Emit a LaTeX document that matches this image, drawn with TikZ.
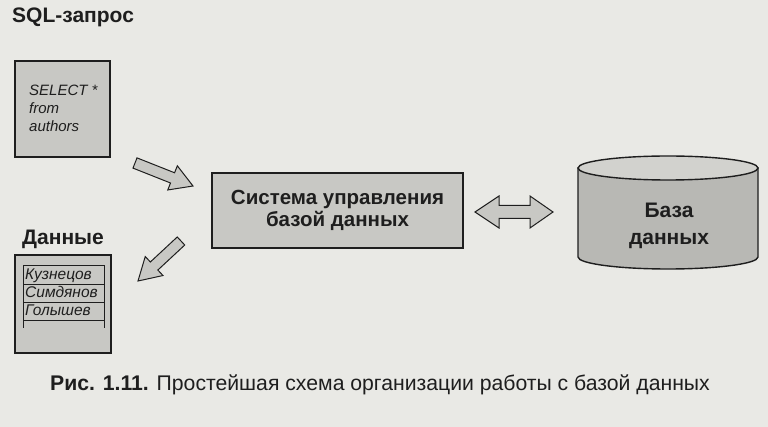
\documentclass[tikz,border=0pt]{standalone}
\usepackage{fontspec}
\setmainfont{Liberation Sans}
\usetikzlibrary{calc}
\definecolor{bg}{HTML}{E9E9E5}
\definecolor{boxfill}{HTML}{C8C8C4}
\definecolor{cylbody}{HTML}{B8B8B4}
\definecolor{cyltop}{HTML}{D2D2CE}
\definecolor{ink}{HTML}{1E1E1E}
\tikzset{
  panel/.style={draw=ink, line width=1.4pt, fill=boxfill, inner sep=0pt},
  blockarr/.style={draw=ink, line width=1pt, fill=boxfill, line join=miter},
  title/.style={font=\fontsize{21}{24}\selectfont\bfseries, text=ink, inner sep=0pt},
  code/.style={font=\fontsize{15}{18}\selectfont\itshape, text=ink, inner sep=0pt, align=left},
  row/.style={font=\fontsize{15.5}{17}\selectfont\itshape, text=ink, inner sep=0pt, anchor=base west},
  tline/.style={draw=ink, line width=0.9pt},
}
\newcommand\myblockarrow[2]{%
  \path ($(#2)!22pt!(#1)$) coordinate (hb);
  \draw[blockarr] ($(#1)!5.5pt!90:(#2)$) -- ($(hb)!5.5pt!-90:(#1)$) -- ($(hb)!13pt!-90:(#1)$)
     -- (#2) -- ($(hb)!13pt!90:(#1)$) -- ($(hb)!5.5pt!90:(#1)$) -- ($(#1)!5.5pt!-90:(#2)$) -- cycle;}
\begin{document}
\begin{tikzpicture}[x=1pt,y=-1pt]
\fill[bg] (0,0) rectangle (768,427);
\useasboundingbox (0,0) rectangle (768,427);

% SQL query
\node[title, anchor=west] (sqlt) at (12,17) {SQL-запрос};
\node[panel, minimum width=95pt, minimum height=96pt] (sel) at (62.5,109) {};
\node[code, anchor=north west] (seltxt) at (29,85) {SELECT *\\from\\authors};

% DBMS
\node[panel, minimum width=251pt, minimum height=75pt, align=center,
      font=\fontsize{20.5}{22}\selectfont\bfseries, text=ink] (dbms) at (337.5,210.5)
      {Система управления\\базой данных};

% Data
\node[title, anchor=west] (datat) at (22,239) {Данные};
\node[panel, minimum width=96pt, minimum height=98pt] (data) at (63,304) {};
\coordinate (tl) at (23,265);
\coordinate (tr) at (104,265);
\coordinate (bl) at (23,328);
\coordinate (br) at (104,328);
\draw[tline] (bl) -- (tl) -- (tr) -- (br);
\draw[tline] (23,284) -- (104,284);
\draw[tline] (23,302) -- (104,302);
\draw[tline] (23,320) -- (104,320);
\node[row] (r1) at (25,280) {Кузнецов};
\node[row] (r2) at (25,298) {Симдянов};
\node[row] (r3) at (25,316) {Голышев};

% Database cylinder
\fill[cylbody, draw=ink, line width=1.4pt] (578,168) -- (578,257)
   arc[start angle=180, end angle=0, x radius=90, y radius=12] -- (758,168) -- cycle;
\filldraw[fill=cyltop, draw=ink, line width=1.4pt] (668,168) ellipse[x radius=90, y radius=12];
\node[align=center, font=\fontsize{21}{27}\selectfont\bfseries, text=ink] (db) at (669,226) {База\\данных};

% Arrows
\coordinate (a1s) at (135,163);
\coordinate (a1e) at (193,186);
\myblockarrow{a1s}{a1e}
\coordinate (a2s) at (181,241);
\coordinate (a2e) at (138,281);
\myblockarrow{a2s}{a2e}

% double arrow
\coordinate (dl) at (475,212);
\coordinate (dr) at (553,212);
\draw[blockarr] (dl) -- (499,196) -- (499,205.5) -- (530,205.5) -- (530,196) -- (dr)
   -- (530,228) -- (530,218.5) -- (499,218.5) -- (499,228) -- cycle;

% caption
\node[font=\fontsize{21.2}{24}\selectfont, text=ink, inner sep=0pt] (cap) at (380,385)
   {\textbf{Рис. 1.11.} Простейшая схема организации работы с базой данных};
\end{tikzpicture}
\end{document}
